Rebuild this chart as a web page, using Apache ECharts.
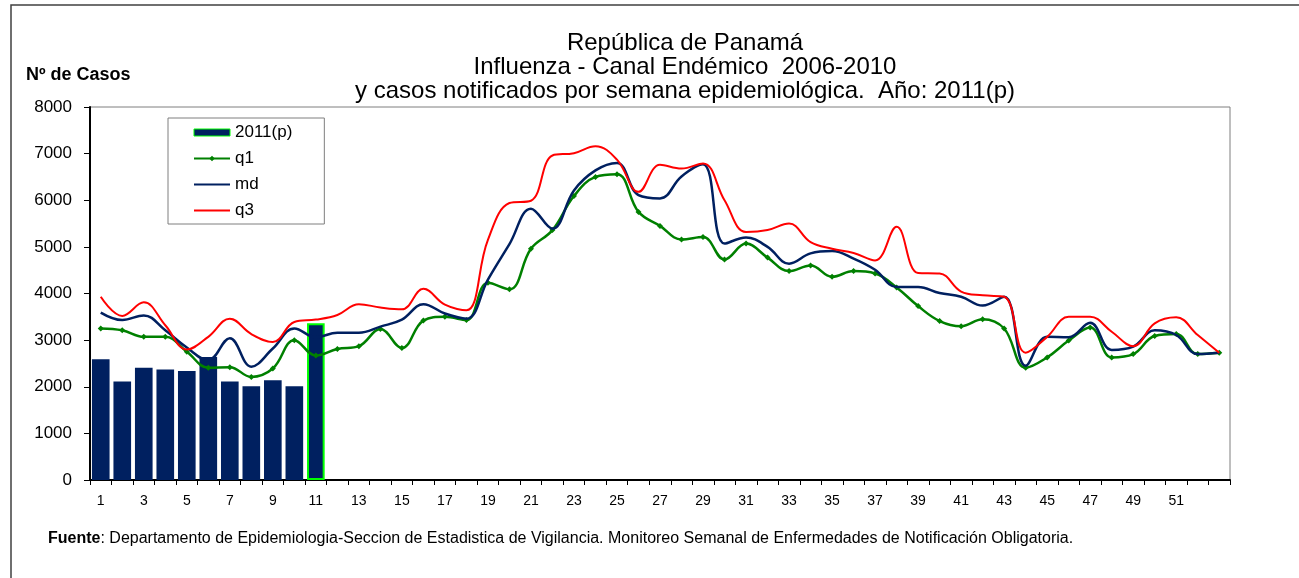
<!DOCTYPE html>
<html>
<head>
<meta charset="utf-8">
<script src="https://cdn.jsdelivr.net/npm/echarts@6/dist/echarts.min.js"></script>
<style>
    html, body { margin: 0; padding: 0; background: #fff; }
    #chart { width: 1299px; height: 578px; }
</style>
</head>
<body>
<div id="chart"></div>
<script>
// semanas epidemiológicas 1..53
var weeks = [];
for (var w = 1; w <= 53; w++) weeks.push(String(w));

// casos notificados 2011 (p), semanas 1-11
var casos2011 = [2590, 2110, 2410, 2370, 2340, 2640, 2110, 2010, 2140, 2010, 3360];

// canal endémico 2006-2010
var q1 = [3250, 3210, 3070, 3070, 2750, 2410, 2420, 2210, 2390, 3000,
          2670, 2810, 2870, 3240, 2830, 3420, 3500, 3430, 4230, 4090,
          4960, 5360, 6090, 6500, 6560, 5750, 5450, 5160, 5210, 4730,
          5070, 4770, 4480, 4600, 4360, 4480, 4430, 4130, 3730, 3410,
          3300, 3450, 3250, 2410, 2630, 2990, 3270, 2630, 2700, 3090,
          3130, 2700, 2730];
var md = [3590, 3430, 3530, 3210, 2840, 2570, 3040, 2430, 2820, 3250,
          3060, 3160, 3160, 3290, 3440, 3770, 3570, 3460, 4300, 5060,
          5820, 5390, 6210, 6640, 6800, 6110, 6040, 6510, 6770, 5070,
          5200, 5000, 4640, 4860, 4910, 4750, 4510, 4140, 4140, 4010,
          3930, 3740, 3930, 2450, 3070, 3060, 3370, 2790, 2860, 3210,
          3110, 2700, 2730];
var q3 = [3930, 3520, 3810, 3320, 2800, 3070, 3460, 3130, 2960, 3390,
          3440, 3540, 3770, 3700, 3660, 4100, 3760, 3640, 5150, 5940,
          5990, 6960, 7010, 7160, 6870, 6180, 6760, 6680, 6790, 6000,
          5320, 5360, 5500, 5100, 4960, 4870, 4710, 5430, 4440, 4430,
          4040, 3960, 3930, 2730, 3070, 3500, 3500, 3180, 2870, 3360,
          3490, 3110, 2730];

var barData = casos2011.map(function (v, i) {
    // la última semana notificada va con borde verde
    if (i === casos2011.length - 1) {
        return { value: v, itemStyle: { borderColor: '#00ff00', borderWidth: 2 } };
    }
    return v;
});

var font = '"Liberation Sans", Arial, sans-serif';
var chart = echarts.init(document.getElementById('chart'));

var option = {
    animation: false,
    backgroundColor: '#fff',
    textStyle: { fontFamily: font },
    title: {
        text: 'República de Panamá\nInfluenza - Canal Endémico  2006-2010\ny casos notificados por semana epidemiológica.  Año: 2011(p)',
        left: 680,
        top: 26,
        textAlign: 'center',
        textStyle: {
            fontFamily: font,
            fontSize: 24,
            fontWeight: 'normal',
            color: '#000',
            lineHeight: 24
        }
    },
    legend: {
        orient: 'vertical',
        left: 168,
        top: 118,
        padding: [6, 32, 5, 25],
        itemWidth: 36,
        itemHeight: 7,
        itemGap: 9,
        backgroundColor: '#fff',
        borderColor: '#7f7f7f',
        borderWidth: 1,
        borderRadius: 0,
        textStyle: { fontFamily: font, fontSize: 17, color: '#000' },
        data: [
            { name: '2011(p)', icon: 'rect', itemStyle: { borderColor: '#00ff00', borderWidth: 1 } },
            { name: 'q1' },
            { name: 'md', itemStyle: { opacity: 0 } },
            { name: 'q3', itemStyle: { opacity: 0 } }
        ]
    },
    grid: {
        left: 90,
        right: 69,
        top: 107,
        bottom: 98,
        show: true,
        borderColor: '#7f7f7f',
        borderWidth: 1
    },
    xAxis: {
        type: 'category',
        data: weeks,
        boundaryGap: true,
        axisLine: { lineStyle: { color: '#000', width: 2 } },
        axisTick: { show: true, interval: 0, length: 5, lineStyle: { color: '#000', width: 1 } },
        axisLabel: {
            interval: function (index) { return index % 2 === 0 && index < 52; },
            margin: 14,
            fontFamily: font,
            fontSize: 14,
            color: '#000'
        },
        splitLine: { show: false }
    },
    yAxis: {
        type: 'value',
        min: 0,
        max: 8000,
        interval: 1000,
        axisLine: { show: true, lineStyle: { color: '#000', width: 2 } },
        axisTick: { show: true, length: 6, lineStyle: { color: '#000' } },
        axisLabel: {
            margin: 18,
            fontFamily: font,
            fontSize: 17,
            color: '#000',
            formatter: function (v) { return String(v); }
        },
        splitLine: { show: false }
    },
    graphic: [
        {
            type: 'rect',
            silent: true,
            z: -10,
            shape: { x: 11, y: 5, width: 1300, height: 600 },
            style: { fill: 'none', stroke: '#404040', lineWidth: 1.5 }
        },
        {
            type: 'text',
            left: 26,
            top: 66,
            style: { text: 'Nº de Casos', font: 'bold 18px ' + font, fill: '#000' }
        },
        {
            type: 'text',
            left: 48,
            top: 531,
            style: {
                text: '{b|Fuente}: Departamento de Epidemiologia-Seccion de Estadistica de Vigilancia. Monitoreo Semanal de Enfermedades de Notificación Obligatoria.',
                font: '16px ' + font,
                fill: '#000',
                rich: { b: { fontWeight: 'bold', fontSize: 16, fontFamily: font } }
            }
        }
    ],
    series: [
        {
            name: '2011(p)',
            type: 'bar',
            data: barData,
            barCategoryGap: '18%',
            z: 1,
            itemStyle: { color: '#002060' }
        },
        {
            name: 'q1',
            type: 'line',
            data: q1,
            smooth: 0.4,
            symbol: 'diamond',
            symbolSize: 6,
            z: 3,
            itemStyle: { color: '#008000' },
            lineStyle: { color: '#008000', width: 2.5 }
        },
        {
            name: 'md',
            type: 'line',
            data: md,
            smooth: 0.4,
            symbol: 'none',
            z: 4,
            itemStyle: { color: '#002060' },
            lineStyle: { color: '#002060', width: 2.5 }
        },
        {
            name: 'q3',
            type: 'line',
            data: q3,
            smooth: 0.4,
            symbol: 'none',
            z: 5,
            itemStyle: { color: '#ff0000' },
            lineStyle: { color: '#ff0000', width: 2 }
        }
    ]
};

chart.setOption(option);
</script>
</body>
</html>
